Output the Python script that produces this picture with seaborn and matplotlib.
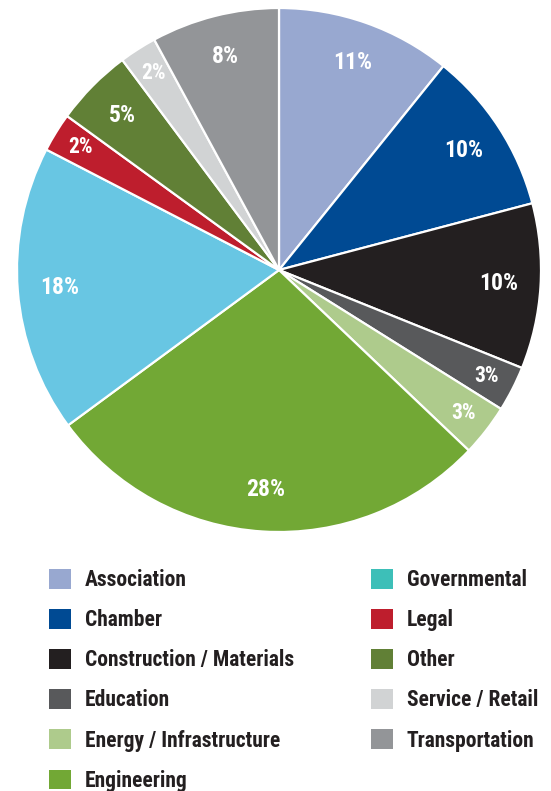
import matplotlib.pyplot as plt
import seaborn as sns
from matplotlib.patches import Patch

# data (clockwise from 12 o'clock)
categories = ["Association", "Chamber", "Construction / Materials", "Education",
              "Energy / Infrastructure", "Engineering", "Governmental", "Legal",
              "Other", "Service / Retail", "Transportation"]
shares = [10.8, 10.1, 10.2, 2.8, 3.2, 27.8, 17.7, 2.4, 4.8, 2.3, 7.9]
slice_colors = ["#98A8D0", "#004A93", "#231F20", "#58595B", "#AECB8C", "#72A835",
                "#68C6E3", "#BE1E2D", "#618036", "#D1D3D4", "#939598"]
legend_colors = ["#98A8D0", "#004A93", "#231F20", "#58595B", "#AECB8C", "#72A835",
                 "#3DBFB8", "#BE1E2D", "#618036", "#D1D3D4", "#939598"]

sns.set_theme(style="white")
font = ["Roboto Condensed", "Roboto", "DejaVu Sans"]
plt.rcParams["font.family"] = font

fig = plt.figure(figsize=(5.51, 7.91), dpi=100)
ax = fig.add_axes([17 / 551, 1 - 532 / 791, 524 / 551, 524 / 791])

wedges, texts, autotexts = ax.pie(
    shares, colors=slice_colors, startangle=90, counterclock=False,
    autopct=lambda p: f"{p:.0f}%", pctdistance=0.84,
    wedgeprops=dict(edgecolor="white", linewidth=1.6),
    textprops=dict(color="white", fontsize=17, fontweight="semibold"))

# small slices carry their label a bit further out
for w, t, v in zip(wedges, autotexts, shares):
    if v < 4:
        x, y = t.get_position()
        t.set_position((x * 1.06, y * 1.06))
        t.set_fontsize(15.5)

ax.set_xlim(-1, 1)
ax.set_ylim(-1, 1)
ax.set_aspect("equal")
ax.axis("off")

handles = [Patch(facecolor=c, edgecolor="none") for c in legend_colors]
kw = dict(loc="upper left", frameon=False, borderpad=0, borderaxespad=0,
          handlelength=1.02, handleheight=1.02, handletextpad=0.65,
          labelspacing=0.835, prop=dict(family=font, size=15.5, weight="semibold"),
          labelcolor="#231F20")
fig.legend(handles[:6], categories[:6], bbox_to_anchor=(49 / 551, 1 - 569 / 791), **kw)
fig.legend(handles[6:], categories[6:], bbox_to_anchor=(371 / 551, 1 - 569 / 791), **kw)

fig.savefig("out.png", dpi=100)
